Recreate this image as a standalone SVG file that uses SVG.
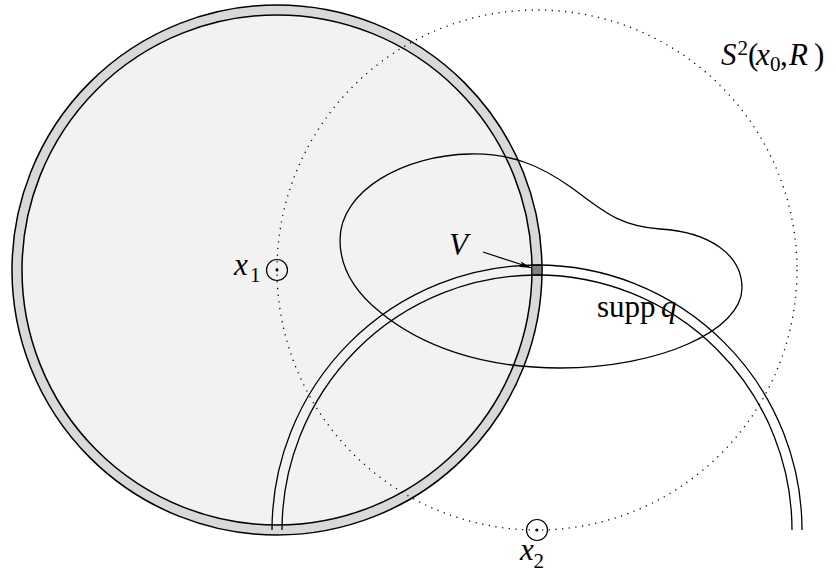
<svg xmlns="http://www.w3.org/2000/svg" width="836" height="574" viewBox="0 0 836 574">
<defs>
<style>
.ln{fill:none;stroke:#000;stroke-width:1.3}
.dot{fill:none;stroke:#000;stroke-width:1.3;stroke-dasharray:1.2 5.5}
text{font-family:"Liberation Serif","Times New Roman",Times,serif;font-size:31px;fill:#000}
.i{font-style:italic}
.s{font-size:21px}
</style>
<marker id="ah" viewBox="0 0 12 6" refX="12" refY="3" markerWidth="12" markerHeight="6" markerUnits="userSpaceOnUse" orient="auto">
<path d="M0,0 L12,3 L0,6 L3,3 Z" fill="#000"/>
</marker>
</defs>
<rect width="836" height="574" fill="#fff"/>
<g id="ball">
<circle cx="277" cy="270" r="265" fill="#d9d9d9" stroke="#000" stroke-width="1.5"/>
<circle cx="277" cy="270" r="255" fill="#f2f2f2" stroke="#000" stroke-width="1.5"/>
</g>
<g id="V">
<path d="M531.9,265.1 L541.95,265.05 L542,275 L531.95,275.05 Z" fill="#808080" stroke="#000" stroke-width="1"/>
</g>
<g id="sphere">
<circle class="dot" cx="537" cy="270" r="260"/>
</g>
<g id="supp">
<path class="ln" d="M470,154 C510,153 540,165 572,188 C602,210 618,226 660,229 C710,232 742,255 742,288 C742,330 660,368 560,368 C480,368 420,345 380,312 C350,288 340,262 340,240 C340,190 405,155 470,154 Z"/>
</g>
<g id="band">
<path class="ln" d="M272,530 A265,265 0 0 1 802,530"/>
<path class="ln" d="M282,530 A255,255 0 0 1 792,530"/>
</g>
<g id="x1">
<circle cx="277" cy="270" r="10.5" fill="none" stroke="#000" stroke-width="1.2"/>
<circle cx="277" cy="270" r="1.5" fill="#000"/>
</g>
<g id="x2">
<circle cx="537" cy="530" r="10.5" fill="none" stroke="#000" stroke-width="1.2"/>
<circle cx="537" cy="530" r="1.5" fill="#000"/>
</g>
<g id="connectors">
<line x1="483" y1="252" x2="531" y2="267.8" stroke="#000" stroke-width="1.2" marker-end="url(#ah)"/>
</g>
<g id="labels">
<text><tspan class="i" x="234" y="275">x</tspan><tspan class="s" x="250" y="282">1</tspan></text>
<text><tspan class="i" x="520" y="560">x</tspan><tspan class="s" x="533.5" y="568">2</tspan></text>
<text class="i" x="449" y="255">V</text>
<text><tspan x="597" y="317">supp</tspan><tspan class="i" x="661" y="317">q</tspan></text>
<text><tspan class="i" x="721" y="65">S</tspan><tspan class="s" x="737.5" y="55">2</tspan><tspan x="748" y="65">(</tspan><tspan class="i" x="756" y="65">x</tspan><tspan class="s" x="770" y="71">0</tspan><tspan x="780" y="65">,</tspan><tspan class="i" x="789" y="65">R</tspan><tspan x="814" y="65">)</tspan></text>
</g>
</svg>
